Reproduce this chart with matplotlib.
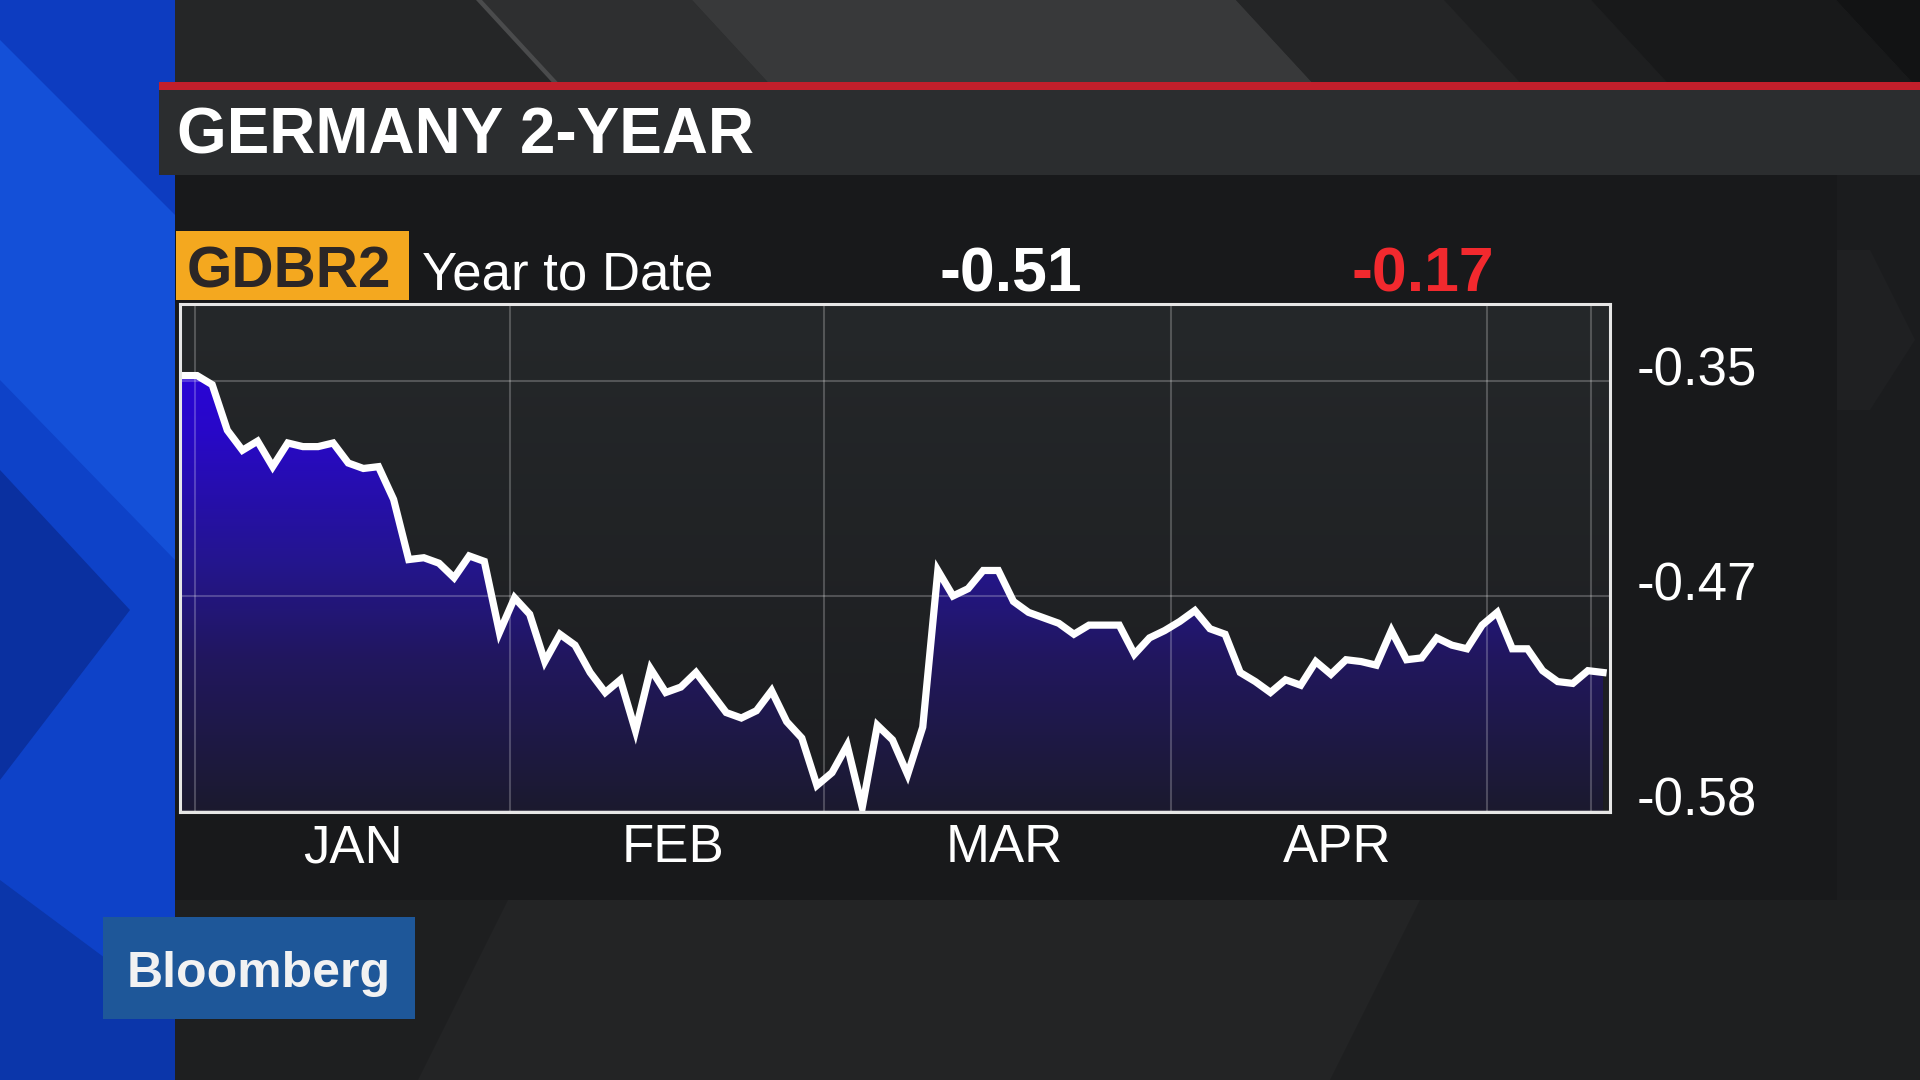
import numpy as np
import matplotlib.pyplot as plt
import matplotlib.transforms as mtransforms
from matplotlib.patches import Rectangle, Polygon
from matplotlib.colors import LinearSegmentedColormap

# GDBR2 (German 2-year yield), one point per trading day since the start of the year
yields = [
    -0.344, -0.344, -0.349, -0.374, -0.385, -0.380, -0.394, -0.381, -0.383, -0.383,
    -0.381, -0.392, -0.395, -0.394, -0.412, -0.445, -0.444, -0.447, -0.455, -0.443,
    -0.446, -0.485, -0.466, -0.475, -0.501, -0.486, -0.492, -0.507, -0.518, -0.511,
    -0.539, -0.505, -0.518, -0.515, -0.507, -0.518, -0.529, -0.532, -0.528, -0.517,
    -0.534, -0.543, -0.569, -0.562, -0.547, -0.581, -0.536, -0.544, -0.563, -0.537,
    -0.451, -0.465, -0.461, -0.451, -0.451, -0.468, -0.474, -0.477, -0.480, -0.486,
    -0.481, -0.481, -0.481, -0.497, -0.488, -0.484, -0.479, -0.473, -0.483, -0.486,
    -0.507, -0.512, -0.518, -0.511, -0.514, -0.501, -0.508, -0.500, -0.501, -0.503,
    -0.484, -0.500, -0.499, -0.488, -0.492, -0.494, -0.481, -0.474, -0.494, -0.494,
    -0.506, -0.512, -0.513, -0.506, -0.507,
]
month_labels = ["JAN", "FEB", "MAR", "APR"]
month_label_pos = [11.3, 32.5, 54.4, 76.4]       # trading-day index of each month name
month_starts = [0.86, 21.7, 42.5, 65.4, 86.3]   # trading-day index where each month begins
last_gridline = 93.2
y_ticks = [-0.347, -0.465, -0.583]
y_tick_labels = ["-0.35", "-0.47", "-0.58"]

title = "GERMANY 2-YEAR"
ticker = "GDBR2"
period = "Year to Date"
last_value = "-0.51"
ytd_change = "-0.17"

plt.rcParams['font.family'] = ['Liberation Sans', 'DejaVu Sans']

fig = plt.figure(figsize=(19.2, 10.8), dpi=100)
fig.patch.set_facecolor('#1c1d1f')

# ---- backdrop, drawn in screen pixels (y grows downward) ----
bg = fig.add_axes([0, 0, 1, 1], zorder=0)
bg.set_xlim(0, 1920)
bg.set_ylim(1080, 0)
bg.axis('off')


def shape(pts, color):
    bg.add_patch(Polygon(pts, closed=True, facecolor=color, edgecolor='none'))


# top strip with diagonal bands
bg.add_patch(Rectangle((175, 0), 1745, 90, facecolor='#252627', edgecolor='none'))
shape([(481, 0), (692, 0), (775, 90), (564, 90)], '#2e2f30')
shape([(692, 0), (1236, 0), (1319, 90), (775, 90)], '#38393a')
shape([(1236, 0), (1444, 0), (1527, 90), (1319, 90)], '#242526')
shape([(1444, 0), (1591, 0), (1674, 90), (1527, 90)], '#1e1f20')
shape([(1591, 0), (1836, 0), (1919, 90), (1674, 90)], '#18191a')
shape([(1836, 0), (1920, 0), (1920, 90), (1919, 90)], '#121314')
shape([(476, 0), (482, 0), (565, 90), (559, 90)], '#4a4b4c')

# blue strip on the left
bg.add_patch(Rectangle((0, 0), 175, 1080, facecolor='#0e42c8', edgecolor='none'))
shape([(0, 0), (175, 0), (175, 215), (0, 40)], '#0d3cc0')
shape([(0, 40), (175, 215), (175, 560), (0, 380)], '#1450d8')
shape([(0, 470), (130, 610), (0, 780)], '#0a30a0')
shape([(0, 880), (175, 1010), (175, 1080), (0, 1080)], '#0b36aa')

# bottom and right areas
bg.add_patch(Rectangle((175, 900), 1745, 180, facecolor='#1e1f20', edgecolor='none'))
shape([(508, 900), (1420, 900), (1330, 1080), (418, 1080)], '#232425')
bg.add_patch(Rectangle((1837, 175), 83, 725, facecolor='#1b1c1e', edgecolor='none'))
shape([(1837, 250), (1870, 250), (1915, 340), (1870, 410), (1837, 410)], '#1f2022')

# title bar and chart panel
bg.add_patch(Rectangle((159, 82), 1761, 8, facecolor='#c21f2b', edgecolor='none'))
bg.add_patch(Rectangle((159, 90), 1761, 85, facecolor='#2b2d2f', edgecolor='none'))
bg.add_patch(Rectangle((175, 175), 1662, 725, facecolor='#18191b', edgecolor='none'))

bg.text(177, 153, title, fontsize=46, fontweight='bold', color='white',
        ha='left', va='baseline')

# header row
bg.add_patch(Rectangle((176, 231), 233, 69, facecolor='#f4a81f', edgecolor='none'))
bg.text(187, 287, ticker, fontsize=42, fontweight='bold', color='#2b2626',
        ha='left', va='baseline')
bg.text(422, 290, period, fontsize=38, color='white', ha='left', va='baseline')
bg.text(939, 292, last_value, fontsize=45, fontweight='bold', color='white',
        ha='left', va='baseline')
bg.text(1351, 292, ytd_change, fontsize=45, fontweight='bold', color='#f2292e',
        ha='left', va='baseline')

# logo
bg.add_patch(Rectangle((103, 917), 312, 102, facecolor='#1e5799', edgecolor='none'))
bg.text(259, 987, "Bloomberg", fontsize=36, fontweight='bold', color='#f2f2f2',
        ha='center', va='baseline')

# ---- the chart ----
ax = fig.add_axes([180 / 1920, 268 / 1080, 1430 / 1920, 508 / 1080], zorder=2)
x = np.arange(len(yields))
xmin, xmax = -0.13, 94.46
ymin, ymax = -0.5836, -0.3047
ax.set_xlim(xmin, xmax)
ax.set_ylim(ymin, ymax)

# plot-area background, faint vertical gradient
back = LinearSegmentedColormap.from_list('back', ['#1c1d20', '#25282a'])
ax.imshow(np.linspace(0, 1, 256).reshape(-1, 1), extent=[xmin, xmax, ymin, ymax],
          origin='lower', aspect='auto', cmap=back, zorder=0)

# area under the line: violet gradient clipped to the series
area = LinearSegmentedColormap.from_list('area', [
    (0.0, '#1b1a2e'), (0.3, '#21175e'), (0.5, '#241590'),
    (0.75, '#2808c8'), (1.0, '#2c00e8')])
fill_img = ax.imshow(np.linspace(0, 1, 256).reshape(-1, 1),
                     extent=[xmin, xmax, ymin, ymax], origin='lower',
                     aspect='auto', cmap=area, zorder=1)
verts = [(x[0], ymin)] + list(zip(x, yields)) + [(x[-1], ymin)]
clip = Polygon(verts, closed=True, facecolor='none', edgecolor='none',
               transform=ax.transData)
ax.add_patch(clip)
fill_img.set_clip_path(clip)

# grid
for v in y_ticks:
    ax.axhline(v, color='white', alpha=0.22, lw=1.5, zorder=2)
for m in month_starts + [last_gridline]:
    ax.axvline(m, color='white', alpha=0.22, lw=1.5, zorder=2)

ax.plot(x, yields, color='white', lw=5.2, zorder=3, solid_joinstyle='miter')

for s in ax.spines.values():
    s.set_color('#e6e6e6')
    s.set_linewidth(2.2)
    s.set_zorder(4)

ax.set_xticks(month_label_pos, month_labels)
ax.tick_params(axis='x', length=0, pad=8, labelsize=38, labelcolor='white')

ax.yaxis.tick_right()
ax.set_yticks(y_ticks, y_tick_labels)
ax.tick_params(axis='y', length=0, pad=19, labelsize=38, labelcolor='white')
lift = mtransforms.ScaledTranslation(0, 0.15, fig.dpi_scale_trans)
for lab in ax.get_yticklabels():
    lab.set_transform(lab.get_transform() + lift)

fig.savefig('out.png', dpi=100, facecolor=fig.get_facecolor())
